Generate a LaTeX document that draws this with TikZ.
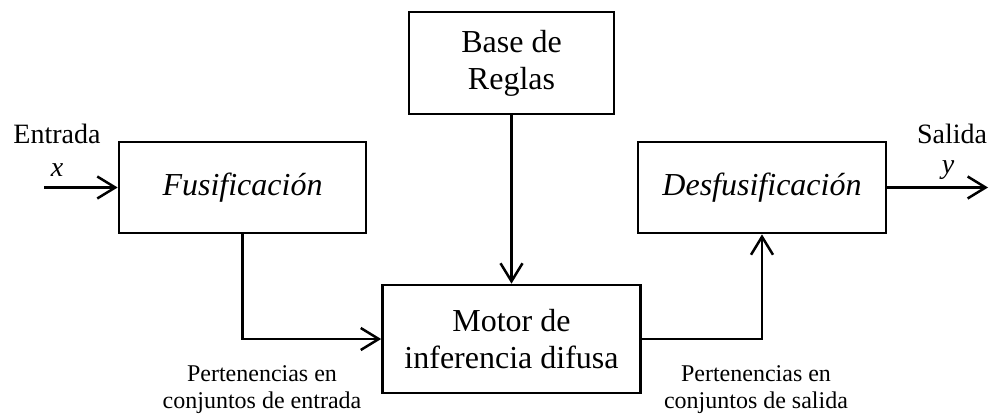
\documentclass[tikz,border=0pt]{standalone}
\usepackage{fontspec}
\setmainfont{Liberation Serif}
\usetikzlibrary{arrows.meta}
\begin{document}
\begin{tikzpicture}[x=1pt,y=1pt,
  blk/.style={draw, line width=2.7pt, inner sep=0pt, align=center, font=\fontsize{32}{37}\selectfont},
  lbl/.style={inner sep=0pt, align=center, font=\fontsize{24}{27}\selectfont},
  io/.style={inner sep=0pt, font=\fontsize{28}{32}\selectfont},
  arr/.style={line width=2.5pt, -{Straight Barb[length=18pt,width=22pt]}},
  wire/.style={line width=2.5pt}]
\useasboundingbox (0,0) rectangle (994,-413);
\node[blk, minimum width=205pt, minimum height=102pt] (base) at (511.5,-63) {Base de\\Reglas};
\node[blk, minimum width=247pt, minimum height=91pt] (fus) at (242.5,-187.5) {\itshape Fusificación};
\node[blk, minimum width=248pt, minimum height=91pt] (des) at (762,-187.5) {\itshape Desfusificación};
\node[blk, minimum width=258pt, minimum height=108pt] (motor) at (511.5,-339) {Motor de\\inferencia difusa};
\coordinate (in) at (44,-187.5);
\coordinate (out) at (988,-187.5);
\node[io] (entrada) at (57,-134) {Entrada};
\node[io] (xs) at (57,-170) {\itshape x};
\node[io] (salida) at (952,-134) {Salida};
\node[io] (ys) at (948,-170) {\itshape y};
\node[lbl] (pin) at (262,-389.5) {Pertenencias en\\conjuntos de entrada};
\node[lbl] (pout) at (756,-389.5) {Pertenencias en\\conjuntos de salida};
\draw[arr] (in) -- (fus.west);
\draw[arr] (des.east) -- (out);
\draw[arr] (base.south) -- (motor.north);
\draw[arr] (fus.south) |- (motor.west);
\draw[arr] (motor.east) -| (des.south);
\end{tikzpicture}
\end{document}
